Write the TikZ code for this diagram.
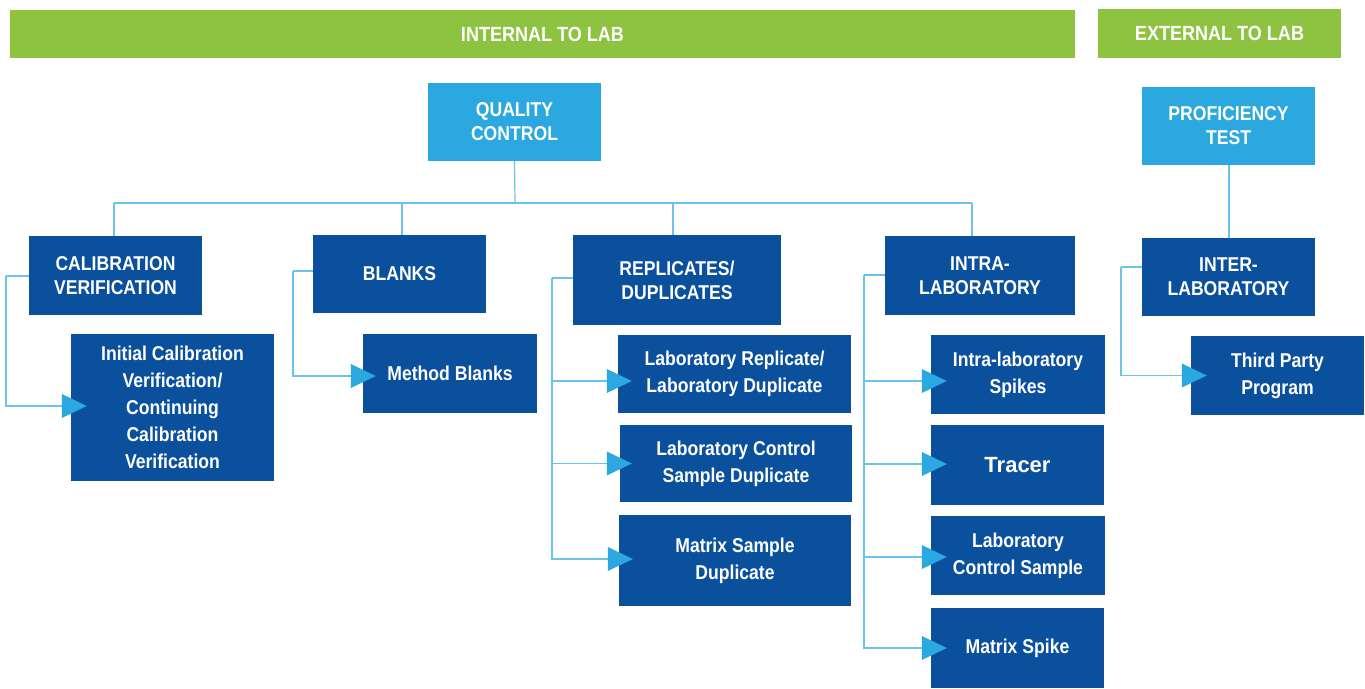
\documentclass[tikz,border=0pt]{standalone}
\usepackage{fontspec}
\setmainfont{Liberation Sans}[FakeStretch=0.88]
\newfontfamily\widefont{Liberation Sans}
\usetikzlibrary{arrows.meta,calc}
\definecolor{dblue}{HTML}{0B509D}
\definecolor{lblue}{HTML}{2CA8E0}
\definecolor{lgreen}{HTML}{8DC340}
\definecolor{lline}{HTML}{6CC3EA}
\tikzset{
  box/.style={fill=dblue, text=white, font=\bfseries\fontsize{20}{24}\selectfont, align=center, inner sep=0pt},
  sbox/.style={box, font=\bfseries\fontsize{20}{27}\selectfont},
  topbox/.style={box, fill=lblue},
  bar/.style={fill=lgreen, text=white, font=\bfseries\fontsize{20.5}{24}\selectfont, inner sep=0pt},
  conn/.style={draw=lline, line width=1.2pt},
  arr/.style={conn, -{Triangle[width=24pt,length=25pt,color=lblue,fill=lblue,line width=0pt]}},
}
\newcommand{\bx}[7]{%
  \node[#7, minimum width={(#4)-(#2)}, minimum height={(#5)-(#3)}] (#1) at ({((#2)+(#4))/2},{((#3)+(#5))/2}) {#6};}
\begin{document}
\begin{tikzpicture}[x=1pt,y=-1pt]
\useasboundingbox (0,0) rectangle (1365,688);
% bars
\bx{internal}{10}{10}{1075}{58}{INTERNAL TO LAB}{bar}
\bx{external}{1098}{9}{1341}{58}{EXTERNAL TO LAB}{bar}
% top
\bx{qc}{428}{83}{601}{161}{QUALITY\\CONTROL}{topbox}
\bx{pt}{1142}{87}{1315}{165}{PROFICIENCY\\TEST}{topbox}
% level 2
\bx{calib}{29}{236}{202}{315}{CALIBRATION\\VERIFICATION}{box}
\bx{blanks}{313}{235}{486}{313}{BLANKS}{box}
\bx{rep}{573}{235}{781}{325}{REPLICATES/\\DUPLICATES}{box}
\bx{intra}{885}{236}{1075}{315}{INTRA-\\LABORATORY}{box}
\bx{inter}{1142}{238}{1315}{316}{INTER-\\LABORATORY}{box}
% level 3
\bx{ivc}{71}{334}{274}{481}{Initial Calibration\\Verification/\\Continuing\\Calibration\\Verification}{sbox}
\bx{mb}{363}{334}{537}{413}{Method Blanks}{sbox}
\bx{lrd}{618}{335}{851}{413}{Laboratory Replicate/\\Laboratory Duplicate}{sbox}
\bx{lcsd}{620}{425}{852}{502}{Laboratory Control\\Sample Duplicate}{sbox}
\bx{msd}{619}{515}{851}{606}{Matrix Sample\\Duplicate}{sbox}
\bx{ils}{931}{335}{1105}{414}{Intra-laboratory\\Spikes}{sbox}
\bx{tracer}{931}{425}{1104}{505}{{\widefont\fontsize{22}{26}\selectfont Tracer}}{sbox}
\bx{lcs}{931}{516}{1105}{595}{Laboratory\\Control Sample}{sbox}
\bx{ms}{931}{608}{1104}{688}{Matrix Spike}{sbox}
\bx{tpp}{1191}{336}{1364}{415}{Third Party\\Program}{sbox}
% top tree
\coordinate (bus) at (515,203);
\coordinate (d1) at (114,203);
\coordinate (d2) at (402,203);
\coordinate (d3) at (673,203);
\coordinate (d4) at (972,203);
\draw[conn] (qc.south) -- (bus);
\draw[conn] (d1) -- (d4);
\draw[conn] (d1) -- (d1 |- calib.north);
\draw[conn] (d2) -- (d2 |- blanks.north);
\draw[conn] (d3) -- (d3 |- rep.north);
\draw[conn] (d4) -- (d4 |- intra.north);
\coordinate (ptb) at (1229,165);
\draw[conn] (ptb) -- (ptb |- inter.north);
% calibration
\coordinate (ct) at (6,276);
\draw[conn] (calib.west |- ct) -- (ct);
\draw[arr] (ct) |- ([xshift=16pt,yshift=1.5pt]ivc.west);
% blanks
\coordinate (bt) at (293,271);
\draw[conn] (blanks.west |- bt) -- (bt);
\draw[arr] (bt) |- ([xshift=13pt,yshift=-2.5pt]mb.west);
% replicates
\coordinate (rt) at (552,278);
\draw[conn] (rep.west |- rt) -- (rt);
\draw[arr] (rt) |- ([xshift=14pt,yshift=1.5pt]msd.west);
\draw[arr] ($(rt |- lrd.west)+(0,7)$) -- ([xshift=14pt,yshift=-7pt]lrd.west);
\draw[arr] (rt |- lcsd.west) -- ([xshift=12pt]lcsd.west);
% intra
\coordinate (it) at (864,275);
\draw[conn] (intra.west |- it) -- (it);
\draw[arr] (it) |- ([xshift=16pt]ms.west);
\draw[arr] ($(it |- ils.west)+(0,6.5)$) -- ([xshift=16pt,yshift=-6.5pt]ils.west);
\draw[arr] ($(it |- tracer.west)+(0,-1)$) -- ([xshift=16pt,yshift=1pt]tracer.west);
\draw[arr] ($(it |- lcs.west)+(0,1.5)$) -- ([xshift=16pt,yshift=-1.5pt]lcs.west);
% inter
\coordinate (xt) at (1121,267);
\draw[conn] (inter.west |- xt) -- (xt);
\draw[arr] (xt) |- ([xshift=16pt]tpp.west);
\end{tikzpicture}
\end{document}
